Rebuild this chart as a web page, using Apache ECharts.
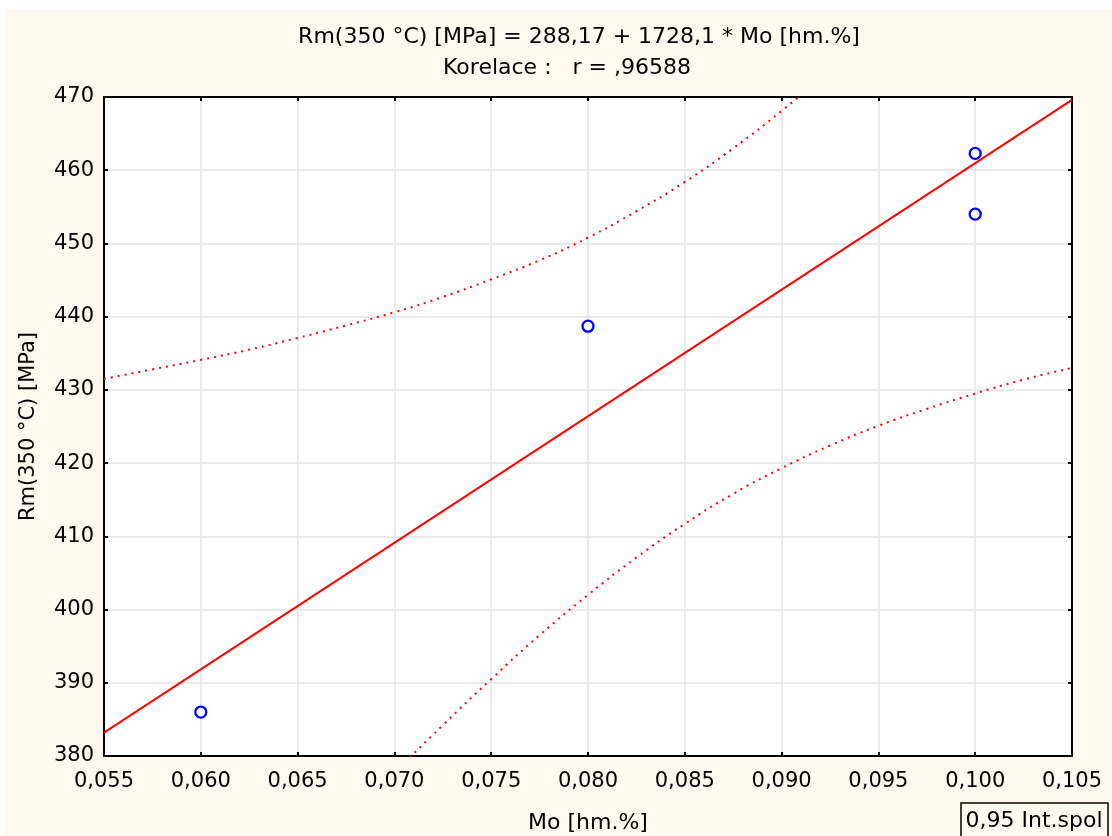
<!DOCTYPE html>
<html>
<head>
<meta charset="utf-8">
<script src="https://cdn.jsdelivr.net/npm/echarts@6/dist/echarts.min.js"></script>
<style>
html,body{margin:0;padding:0;background:#ffffff;}
#chart{width:1112px;height:836px;}
</style>
</head>
<body>
<div id="chart"></div>
<script>
// ---- data ----
const titleLine1 = 'Rm(350 °C) [MPa] = 288,17 + 1728,1 * Mo [hm.%]';
const titleLine2 = 'Korelace :   r = ,96588';
const xAxisName = 'Mo [hm.%]';
const yAxisName = 'Rm(350 °C) [MPa]';
const legendLabel = '0,95 Int.spol';

const xTickLabels = ['0,055','0,060','0,065','0,070','0,075','0,080','0,085','0,090','0,095','0,100','0,105'];
const yTickLabels = ['380','390','400','410','420','430','440','450','460','470'];

const moValues = [0.060, 0.080, 0.100, 0.100];
const rmValues = [386.0, 438.7, 462.3, 454.0];

const fitX = [0.055, 0.105];
const fitY = [383.2, 469.6];

const upperX = [0.055, 0.0575, 0.060, 0.0625, 0.065, 0.0675, 0.070, 0.0725, 0.075, 0.0775, 0.080, 0.0825, 0.085, 0.0875, 0.090, 0.0925];
const upperY = [431.5, 432.8, 434.1, 435.5, 437.1, 438.8, 440.6, 442.7, 445.1, 447.7, 450.8, 454.4, 458.4, 463.0, 468.1, 473.7];

const lowerX = [0.0675, 0.070, 0.0725, 0.075, 0.0775, 0.080, 0.0825, 0.085, 0.0875, 0.090, 0.0925, 0.095, 0.0975, 0.100, 0.1025, 0.105];
const lowerY = [370.9, 377.7, 384.2, 390.5, 396.5, 402.0, 407.1, 411.7, 415.8, 419.3, 422.4, 425.1, 427.4, 429.5, 431.4, 433.0];

// ---- chart ----
const zip = (a, b) => a.map((v, i) => [v, b[i]]);
const FONT = 'DejaVu Sans';
const chart = echarts.init(document.getElementById('chart'), null, {renderer: 'canvas'});

const axisCommon = {
  axisLine: {show: true, lineStyle: {color: '#000', width: 2}},
  axisTick: {show: true, inside: true, length: 4, lineStyle: {color: '#000', width: 2}},
  splitLine: {show: false},
};

const option = {
  backgroundColor: '#ffffff',
  animation: false,
  textStyle: {fontFamily: FONT},
  graphic: [
    {type: 'rect', z: -10, shape: {x: 5, y: 9, width: 1107, height: 827}, style: {fill: '#fdf9ef'}, silent: true},
    {type: 'text', x: 579, y: 37, style: {text: titleLine1, font: '22px "DejaVu Sans"', fill: '#000', textAlign: 'center', textVerticalAlign: 'middle'}},
    {type: 'text', x: 567, y: 68, style: {text: titleLine2, font: '22px "DejaVu Sans"', fill: '#000', textAlign: 'center', textVerticalAlign: 'middle'}},
    {type: 'rect', shape: {x: 961, y: 803, width: 147, height: 40}, style: {fill: 'none', stroke: '#000', lineWidth: 1.5}},
    {type: 'text', x: 1034, y: 821, style: {text: legendLabel, font: '22px "DejaVu Sans"', fill: '#000', textAlign: 'center', textVerticalAlign: 'middle'}}
  ],
  grid: {left: 104, right: 40, top: 97, bottom: 80, show: true, backgroundColor: '#ffffff', borderWidth: 0,
    containLabel: false, outerBoundsMode: 'none'},
  xAxis: [
    Object.assign({}, axisCommon, {
      type: 'value', min: 0.055, max: 0.105, interval: 0.005, position: 'bottom',
      name: xAxisName, nameLocation: 'middle', nameGap: 56,
      nameTextStyle: {fontFamily: FONT, fontSize: 22, color: '#000'},
      axisLabel: {fontFamily: FONT, fontSize: 21, color: '#000', margin: 15,
        formatter: (v, i) => xTickLabels[i] !== undefined ? xTickLabels[i] : ''},
      splitLine: {show: true, lineStyle: {color: '#e3e3e3', width: 1.5}}
    }),
    Object.assign({}, axisCommon, {
      type: 'value', min: 0.055, max: 0.105, interval: 0.005, position: 'top',
      axisLabel: {show: false}
    })
  ],
  yAxis: [
    Object.assign({}, axisCommon, {
      type: 'value', min: 380, max: 470, interval: 10, position: 'left',
      name: yAxisName, nameLocation: 'middle', nameGap: 65, nameRotate: 90,
      nameTextStyle: {fontFamily: FONT, fontSize: 21, color: '#000'},
      axisLabel: {fontFamily: FONT, fontSize: 21, color: '#000', margin: 10,
        formatter: (v, i) => yTickLabels[i] !== undefined ? yTickLabels[i] : ''},
      splitLine: {show: true, lineStyle: {color: '#e3e3e3', width: 1.5}}
    }),
    Object.assign({}, axisCommon, {
      type: 'value', min: 380, max: 470, interval: 10, position: 'right',
      axisLabel: {show: false}
    })
  ],
  series: [
    {
      name: 'fit', type: 'line', data: zip(fitX, fitY), showSymbol: false, symbol: 'none',
      lineStyle: {color: '#ff0000', width: 2}, clip: true, z: 3
    },
    {
      name: 'upper', type: 'line', data: zip(upperX, upperY), showSymbol: false, symbol: 'none', smooth: true,
      lineStyle: {color: '#ff0000', width: 2, type: [2, 5]}, clip: true, z: 3
    },
    {
      name: 'lower', type: 'line', data: zip(lowerX, lowerY), showSymbol: false, symbol: 'none', smooth: true,
      lineStyle: {color: '#ff0000', width: 2, type: [2, 5]}, clip: true, z: 3
    },
    {
      name: 'data', type: 'scatter', data: zip(moValues, rmValues), symbol: 'circle', symbolSize: 11,
      itemStyle: {color: '#ffffff', borderColor: '#0000ff', borderWidth: 2.3, opacity: 1}, z: 5
    }
  ]
};
chart.setOption(option);
</script>
</body>
</html>
